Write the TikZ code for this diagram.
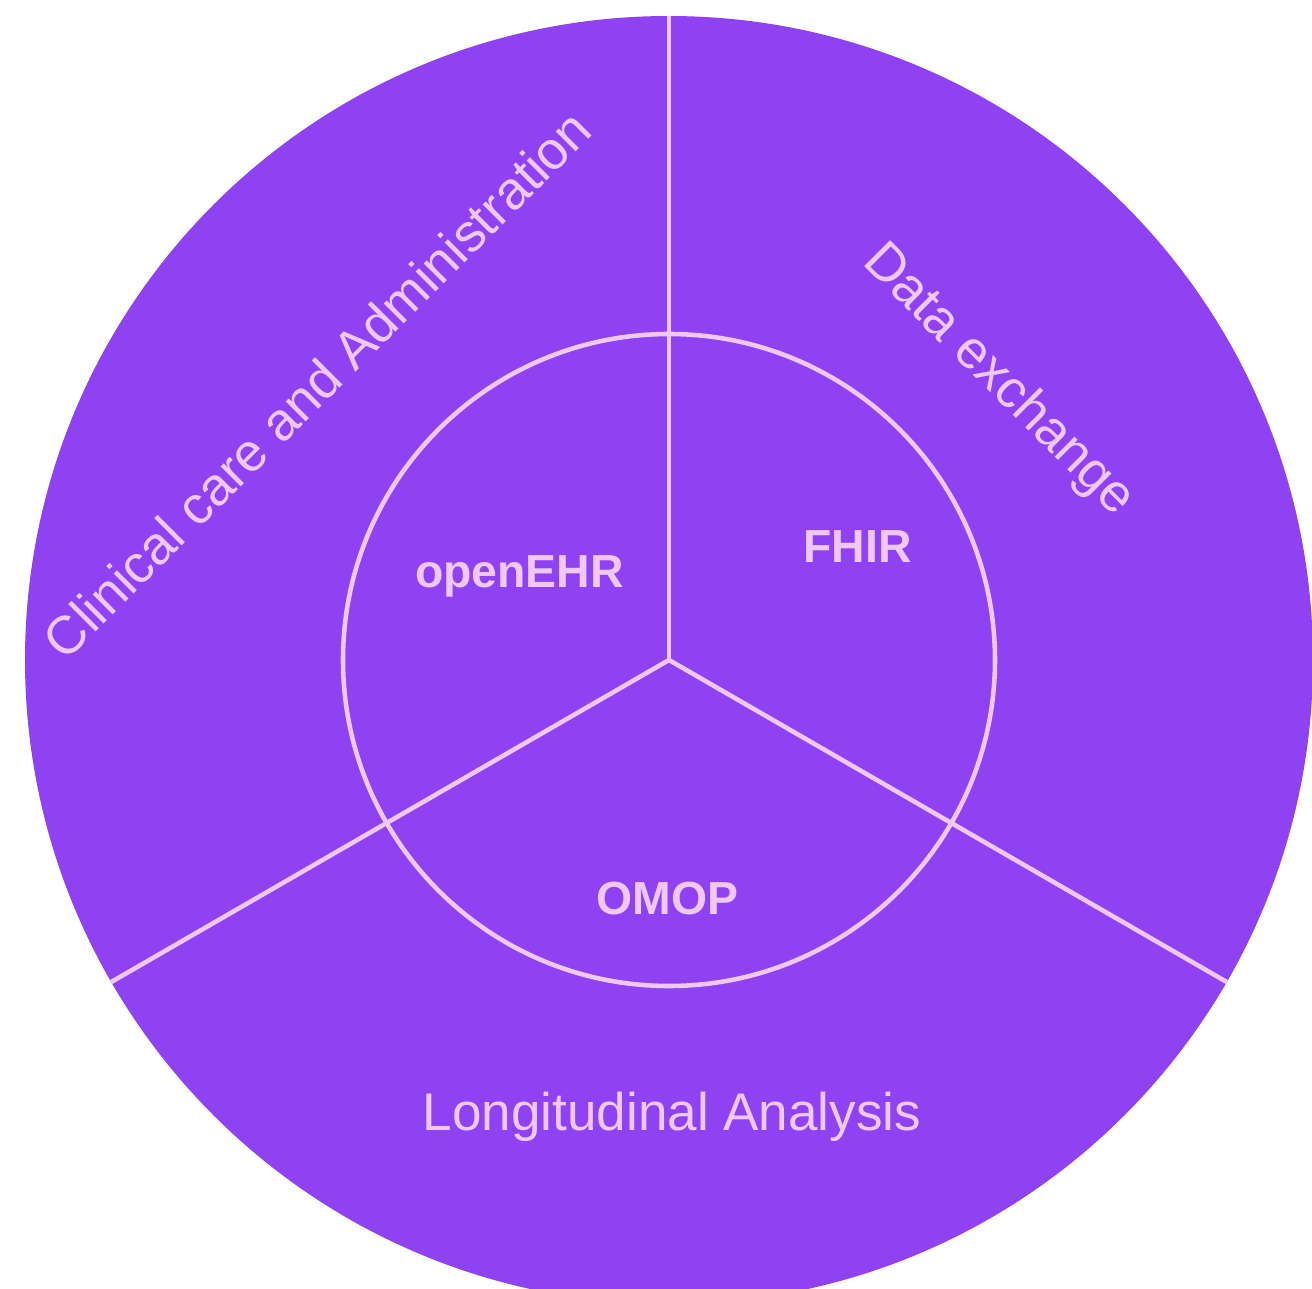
\documentclass[tikz,border=0pt]{standalone}
\usepackage{fontspec}
\setmainfont{Liberation Sans}
\definecolor{wheelfill}{RGB}{142,66,242}
\definecolor{wheelline}{RGB}{240,200,248}
\tikzset{
  ring/.style={circle, inner sep=0pt, outer sep=0pt},
  divider/.style={draw=wheelline, line width=1.3pt},
  sector/.style={text=wheelline, font=\fontsize{15.2}{18}\selectfont, inner sep=0pt},
  standard/.style={text=wheelline, font=\bfseries\fontsize{13.2}{16}\selectfont, inner sep=0pt, anchor=base},
}
\begin{document}
\begin{tikzpicture}
\clip (0,0) rectangle (13.12,12.89);
\useasboundingbox (0,0) rectangle (13.12,12.89);
\fill[white] (0,0) rectangle (13.12,12.89);
\coordinate (c) at (6.69,6.29);
\node[ring, fill=wheelfill, minimum size=12.88cm] (outer) at (c) {};
\draw[divider] (c) -- (outer.90);
\draw[divider] (c) -- (outer.210);
\draw[divider] (c) -- (outer.330);
\node[ring, draw=wheelline, line width=1.3pt, minimum size=6.52cm] (inner) at (c) {};
\node[sector, rotate=45] (clin) at (3.17,9.05) {Clinical care and Administration};
\node[sector, rotate=-45] (data) at (9.98,9.08) {Data exchange};
\node[sector, anchor=base, font=\fontsize{15.1}{18}\selectfont] (long) at (6.72,1.59) {Longitudinal Analysis};
\node[standard] (ehr) at (5.195,7.01) {openEHR};
\node[standard] (fhir) at (8.575,7.26) {FHIR};
\node[standard] (omop) at (6.675,3.74) {OMOP};
\end{tikzpicture}
\end{document}
